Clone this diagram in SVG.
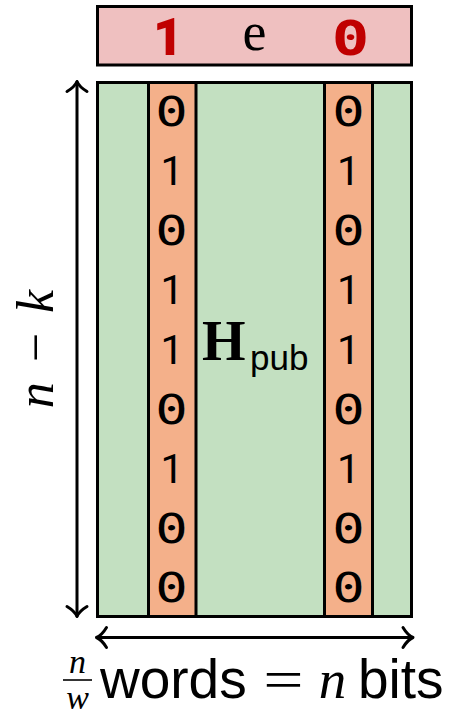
<svg xmlns="http://www.w3.org/2000/svg" width="454" height="715" viewBox="0 0 454 715">
  <style>
    .box { stroke: #000; stroke-width: 3; }
    .pink { fill: #efc0c0; }
    .green { fill: #c3e0c1; }
    .orange { fill: #f4b08a; }
    .zero { font-family: "DejaVu Sans Mono", monospace; font-size: 40px; fill: #000; text-anchor: middle; }
    .one { font-family: Roboto, "Liberation Sans", sans-serif; font-size: 41px; fill: #000; text-anchor: middle; }
    .arrow { fill: none; stroke: #000; stroke-width: 3; stroke-linecap: round; stroke-linejoin: round; }
  </style>

  <rect width="454" height="715" fill="#fff"/>

  <!-- selected error vector, one row on top -->
  <g id="error-row">
    <rect class="box pink" x="97.5" y="6.5" width="314" height="58.5"/>
    <text x="168" y="55" font-family="Roboto, Liberation Sans, sans-serif" font-size="52" font-weight="900" fill="#c00000" text-anchor="middle">1</text>
    <text x="254.5" y="50" font-family="Liberation Serif, Times New Roman, serif" font-size="54" text-anchor="middle">e</text>
    <text transform="translate(350.5,55) scale(1.3,1)" font-family="DejaVu Sans Mono, monospace" font-size="48" font-weight="bold" fill="#c00000" text-anchor="middle">0</text>
  </g>

  <!-- public parity-check matrix -->
  <g id="matrix">
    <rect class="box green" x="97.5" y="82.5" width="314" height="534"/>
  </g>

  <!-- column picked by the first set bit -->
  <g id="column-left">
    <rect class="box orange" x="148.5" y="82.5" width="47.5" height="534"/>
    <text class="zero" transform="translate(171.5,125.5) scale(1.35,1)">0</text>
    <text class="one" x="172" y="185">1</text>
    <text class="zero" transform="translate(171.5,244.7) scale(1.35,1)">0</text>
    <text class="one" x="172" y="304.3">1</text>
    <text class="one" x="172" y="363.9">1</text>
    <text class="zero" transform="translate(171.5,423.5) scale(1.35,1)">0</text>
    <text class="one" x="172" y="483.1">1</text>
    <text class="zero" transform="translate(171.5,542.7) scale(1.35,1)">0</text>
    <text class="zero" transform="translate(171.5,602.3) scale(1.35,1)">0</text>
  </g>

  <!-- column picked by the second set bit -->
  <g id="column-right">
    <rect class="box orange" x="324.5" y="82.5" width="48" height="534"/>
    <text class="zero" transform="translate(348.5,125.5) scale(1.35,1)">0</text>
    <text class="one" x="348.5" y="185">1</text>
    <text class="zero" transform="translate(348.5,244.7) scale(1.35,1)">0</text>
    <text class="one" x="348.5" y="304.3">1</text>
    <text class="one" x="348.5" y="363.9">1</text>
    <text class="zero" transform="translate(348.5,423.5) scale(1.35,1)">0</text>
    <text class="one" x="348.5" y="483.1">1</text>
    <text class="zero" transform="translate(348.5,542.7) scale(1.35,1)">0</text>
    <text class="zero" transform="translate(348.5,602.3) scale(1.35,1)">0</text>
  </g>

  <!-- matrix name -->
  <g id="matrix-label">
    <text x="202" y="360" font-family="Liberation Serif, Times New Roman, serif" font-size="56" font-weight="bold">H</text>
    <text x="250" y="370" font-family="Liberation Sans, Arial, sans-serif" font-size="35">pub</text>
  </g>

  <!-- dimension arrows -->
  <g id="connectors">
    <line class="arrow" x1="77" y1="82" x2="77" y2="616"/>
    <path class="arrow" d="M67,91.5 C72,88.5 75.5,85 77,81.5 C78.5,85 82,88.5 87,91.5"/>
    <path class="arrow" d="M67,606.5 C72,609.5 75.5,613 77,616.5 C78.5,613 82,609.5 87,606.5"/>
    <line class="arrow" x1="97" y1="637.5" x2="412.5" y2="637.5"/>
    <path class="arrow" d="M106.5,627.5 C103.5,632.5 100,636 96.5,637.5 C100,639 103.5,642.5 106.5,647.5"/>
    <path class="arrow" d="M403,627.5 C406,632.5 409.5,636 413,637.5 C409.5,639 406,642.5 403,647.5"/>
  </g>

  <!-- height label -->
  <g id="height-label">
    <text transform="translate(53,349) rotate(-90)" font-family="Liberation Serif, Times New Roman, serif" font-size="52" text-anchor="middle"><tspan font-style="italic">n</tspan><tspan dx="20">−</tspan><tspan dx="20" font-style="italic">k</tspan></text>
  </g>

  <!-- width label -->
  <g id="width-label">
    <g font-family="Liberation Serif, Times New Roman, serif" font-style="italic" text-anchor="middle" font-size="34">
      <text x="77.5" y="673">n</text>
      <text x="77.5" y="709">w</text>
    </g>
    <line x1="63" y1="680" x2="92" y2="680" stroke="#000" stroke-width="1.6"/>
    <text x="100" y="698" font-family="Liberation Sans, Arial, sans-serif" font-size="55">words</text>
    <text transform="translate(283.5,698) scale(1.3,1)" font-family="Liberation Serif, Times New Roman, serif" font-size="55" text-anchor="middle">=</text>
    <text x="332.5" y="698" font-family="Liberation Serif, Times New Roman, serif" font-size="55" font-style="italic" text-anchor="middle">n</text>
    <text x="358" y="698" font-family="Liberation Sans, Arial, sans-serif" font-size="55">bits</text>
  </g>
</svg>
